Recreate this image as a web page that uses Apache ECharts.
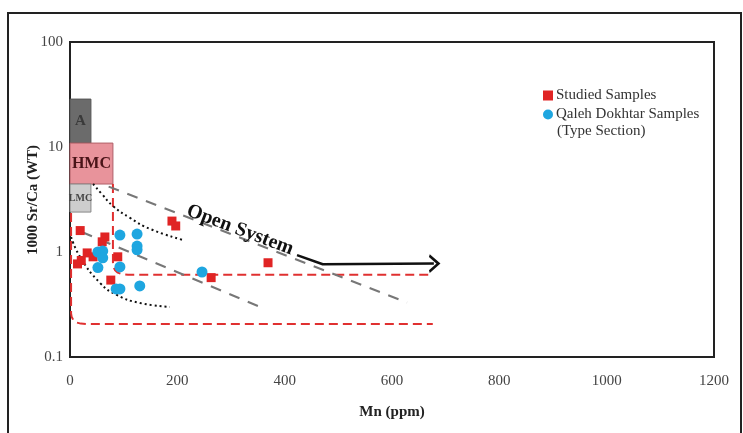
<!DOCTYPE html>
<html>
<head>
<meta charset="utf-8">
<script src="https://cdn.jsdelivr.net/npm/echarts@6/dist/echarts.min.js"></script>
<style>
  html, body { margin: 0; padding: 0; background: #fff; }
  #main { width: 743px; height: 433px; }
</style>
</head>
<body>
<div id="main"></div>
<script>
// Mn (ppm) vs 1000 Sr/Ca
var studied = [
    [19, 1.6], [190, 1.97], [197, 1.77], [65, 1.39], [60, 1.25],
    [32, 0.98], [43, 0.9], [21, 0.83], [14, 0.77], [89, 0.9],
    [76, 0.54], [263, 0.57], [369, 0.79]
];
var qaleh = [
    [93, 1.45], [125, 1.48], [125, 1.14], [125, 1.05], [52, 1.0],
    [61, 1.02], [61, 0.88], [52, 0.71], [93, 0.72], [86, 0.445],
    [93, 0.445], [130, 0.475], [246, 0.645]
];

// fields: [xmin, xmax, ymin, ymax]
var boxA = [0, 39, 10.9, 28.6];
var boxHMC = [0, 80, 4.44, 10.9];
var boxLMC = [0, 39, 2.4, 4.44];

// trends
var trendUpper = [[72, 4.2], [628, 0.33]];
var trendLower = [[22, 1.55], [354, 0.30]];
var curveUpper = [[43, 4.44], [61, 3.49], [80, 2.74], [112, 2.11], [149, 1.66], [211, 1.30]];
var curveLower = [[2, 1.39], [19, 0.895], [56, 0.507], [87, 0.39], [130, 0.327], [186, 0.30]];
var envLow = [[2, 2.35], [2, 0.26], [3, 0.242], [6, 0.226], [11, 0.214], [20, 0.208], [32, 0.206], [676, 0.206]];
var envHigh = [[80, 4.44], [80, 0.8], [81, 0.72], [84, 0.67], [89, 0.636], [97, 0.615], [108, 0.606], [676, 0.606]];
var openArrow = [[423, 0.935], [471, 0.765], [678, 0.775]];

var xTicks = [0, 200, 400, 600, 800, 1000, 1200];

var serif = 'Liberation Serif';
var chart = echarts.init(document.getElementById('main'));

function boxArea(b, color, border, label, labelColor, size) {
    return [{
        coord: [b[0], b[2]],
        itemStyle: { color: color, borderColor: border, borderWidth: 1 },
        label: {
            show: true, position: 'inside', formatter: label,
            fontFamily: serif, fontWeight: 'bold', fontSize: size, color: labelColor
        }
    }, {
        coord: [b[1], b[3]]
    }];
}

function lineSeries(data, color, width, type, smooth) {
    return {
        type: 'line', data: data, symbol: 'none', smooth: smooth || false,
        silent: true, z: 2,
        lineStyle: { color: color, width: width, type: type }
    };
}

var option = {
    animation: false,
    grid: {
        left: 70, right: 29, top: 42, bottom: 76,
        show: true, borderColor: '#222', borderWidth: 2
    },
    xAxis: {
        type: 'value', min: 0, max: 1200, interval: 200,
        name: 'Mn (ppm)', nameLocation: 'middle', nameGap: 48,
        nameTextStyle: { fontFamily: serif, fontWeight: 'bold', fontSize: 15, color: '#222' },
        axisLine: { lineStyle: { color: '#222', width: 2 } },
        axisTick: { show: false },
        splitLine: { show: false },
        axisLabel: {
            fontFamily: serif, fontSize: 15, color: '#444', margin: 17,
            formatter: function (v) { return xTicks.indexOf(v) >= 0 ? String(v) : ''; }
        }
    },
    yAxis: {
        type: 'log', logBase: 10, min: 0.1, max: 100,
        axisLine: { lineStyle: { color: '#222', width: 2 } },
        axisTick: { show: false },
        splitLine: { show: false },
        axisLabel: { fontFamily: serif, fontSize: 15, color: '#444', margin: 7 }
    },
    legend: {
        data: [
            { name: 'Studied Samples', icon: 'rect' },
            { name: 'Qaleh Dokhtar Samples', icon: 'circle' }
        ],
        orient: 'vertical', left: 543, top: 88, padding: 0,
        itemWidth: 10, itemHeight: 10, itemGap: 4,
        textStyle: { fontFamily: serif, fontSize: 15, color: '#333', padding: [0, 0, 0, -2] }
    },
    graphic: [
        {
            type: 'rect', shape: { x: 8, y: 13, width: 733, height: 440 },
            style: { fill: 'none', stroke: '#222', lineWidth: 2 }, silent: true
        },
        {
            // y axis title
            type: 'text', x: 33, y: 200, rotation: Math.PI / 2,
            style: {
                text: '1000 Sr/Ca (WT)', font: 'bold 15px "Liberation Serif"', fill: '#222',
                align: 'center', verticalAlign: 'middle'
            }
        },
        {
            type: 'text', left: 557, top: 124,
            style: { text: '(Type Section)', font: '15px "Liberation Serif"', fill: '#333' }
        },
        {
            type: 'text', x: 240, y: 230, rotation: -0.36, z: 10,
            style: {
                text: 'Open System', font: 'bold 20px "Liberation Serif"', fill: '#111',
                align: 'center', verticalAlign: 'middle'
            }
        }
    ],
    series: [
        {
            type: 'line', data: [], silent: true, z: 1,
            markArea: {
                silent: true,
                data: [
                    boxArea(boxA, '#6b6b6b', '#555', 'A', '#3a3a3a', 15),
                    boxArea(boxHMC, '#e8939b', '#b06068', 'HMC', '#4a1418', 16),
                    boxArea(boxLMC, '#cdcdcd', '#888', 'LMC', '#444', 10)
                ]
            }
        },
        lineSeries(envLow, '#e03030', 2, [9, 5]),
        lineSeries(envHigh, '#e03030', 2, [9, 5]),
        lineSeries(trendUpper, '#777', 2, [11, 9]),
        lineSeries(trendLower, '#777', 2, [11, 9]),
        lineSeries(curveUpper, '#111', 2, [2, 3], true),
        lineSeries(curveLower, '#111', 2, [2, 3], true),
        {
            type: 'line', silent: true, z: 4,
            data: openArrow.map(function (p, i) {
                if (i < openArrow.length - 1) return { value: p, symbol: 'none' };
                return {
                    value: p, symbol: 'path://M0,0 L10,10 L0,20', symbolSize: [9, 16],
                    itemStyle: { color: 'transparent', borderColor: '#111', borderWidth: 2.5 }
                };
            }),
            lineStyle: { color: '#111', width: 2.5 }
        },
        {
            name: 'Studied Samples', type: 'scatter', data: studied,
            symbol: 'rect', symbolSize: 9, z: 5,
            itemStyle: { color: '#e02424', opacity: 1 }
        },
        {
            name: 'Qaleh Dokhtar Samples', type: 'scatter', data: qaleh,
            symbol: 'circle', symbolSize: 11, z: 5,
            itemStyle: { color: '#1ea6e0', opacity: 1 }
        }
    ]
};

chart.setOption(option);
</script>
</body>
</html>
